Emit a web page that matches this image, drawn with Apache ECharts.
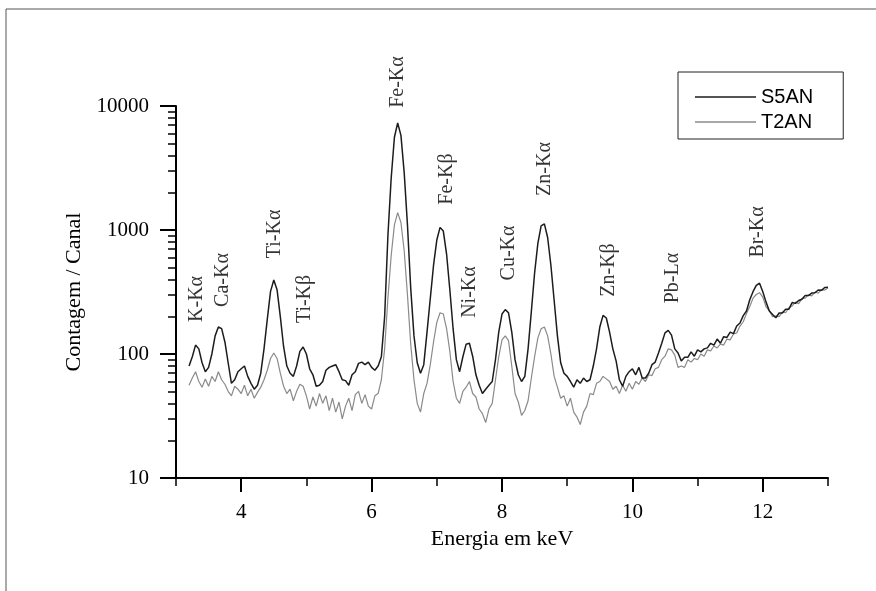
<!DOCTYPE html>
<html><head><meta charset="utf-8">
<script src="https://cdn.jsdelivr.net/npm/echarts@6/dist/echarts.min.js"></script>
<style>html,body{margin:0;padding:0;background:#fff}#c{width:876px;height:591px}</style>
</head><body><div id="c"></div>
<script>
// Energy channels (keV)
const energy = [3.20,3.25,3.30,3.35,3.40,3.45,3.50,3.55,3.60,3.65,3.70,3.75,3.80,3.85,3.90,3.95,
4.00,4.05,4.10,4.15,4.20,4.25,4.30,4.35,4.40,4.45,4.50,4.55,4.60,4.65,4.70,4.75,4.80,4.85,4.90,4.95,
5.00,5.05,5.10,5.15,5.20,5.25,5.30,5.35,5.40,5.45,5.50,5.55,5.60,5.65,5.70,5.75,5.80,5.85,5.90,5.95,
6.00,6.05,6.10,6.15,6.20,6.25,6.30,6.35,6.40,6.45,6.50,6.55,6.60,6.65,6.70,6.75,6.80,6.85,6.90,6.95,
7.00,7.05,7.10,7.15,7.20,7.25,7.30,7.35,7.40,7.45,7.50,7.55,7.60,7.65,7.70,7.75,7.80,7.85,7.90,7.95,
8.00,8.05,8.10,8.15,8.20,8.25,8.30,8.35,8.40,8.45,8.50,8.55,8.60,8.65,8.70,8.75,8.80,8.85,8.90,8.95,
9.00,9.05,9.10,9.15,9.20,9.25,9.30,9.35,9.40,9.45,9.50,9.55,9.60,9.65,9.70,9.75,9.80,9.85,9.90,9.95,
10.00,10.05,10.10,10.15,10.20,10.25,10.30,10.35,10.40,10.45,10.50,10.55,10.60,10.65,10.70,10.75,10.80,10.85,10.90,10.95,
11.00,11.05,11.10,11.15,11.20,11.25,11.30,11.35,11.40,11.45,11.50,11.55,11.60,11.65,11.70,11.75,11.80,11.85,11.90,11.95,
12.00,12.05,12.10,12.15,12.20,12.25,12.30,12.35,12.40,12.45,12.50,12.55,12.60,12.65,12.70,12.75,12.80,12.85,12.90,12.95,
13.00];

// Counts per channel, sample S5AN
const s5an = [80,95,118,110,85,72,78,100,140,165,160,125,85,58,62,72,
76,80,66,58,52,56,70,110,190,320,395,330,200,115,80,70,66,80,105,114,
100,76,68,55,56,60,74,78,80,82,72,62,61,56,68,72,84,86,82,86,
78,74,80,95,200,900,2600,5600,7300,5800,2900,1100,340,140,85,70,82,150,280,520,
830,1050,980,640,330,160,90,72,95,120,122,96,68,56,48,52,56,60,90,150,
210,228,215,150,90,68,60,66,110,220,450,780,1080,1120,870,520,270,140,85,70,
66,60,54,62,58,64,60,62,80,110,165,205,195,150,110,88,62,55,66,72,
76,68,78,64,64,70,82,86,102,122,148,155,142,110,102,88,94,94,104,96,
108,104,110,112,122,118,132,122,138,136,150,146,168,178,204,222,274,318,358,372,
318,262,222,208,196,214,214,230,230,260,256,270,276,296,296,310,312,328,326,344,
345];

// Counts per channel, sample T2AN
const t2an = [56,64,72,60,54,63,55,66,60,72,62,57,50,46,55,52,
48,56,46,52,44,49,54,62,74,92,102,92,70,55,48,52,42,50,57,55,
46,36,45,38,48,40,46,35,44,34,41,30,38,44,35,47,50,40,47,38,
36,46,48,62,110,280,620,1100,1380,1150,680,300,120,62,40,34,48,58,82,125,
180,215,210,160,105,60,44,40,50,54,60,48,45,36,33,28,36,40,62,95,
130,140,128,80,48,41,32,35,42,64,95,135,160,165,140,100,66,54,44,46,
38,44,34,31,27,34,38,48,47,58,60,66,63,60,52,55,48,56,50,58,
52,60,57,64,60,68,67,76,78,90,96,110,108,98,78,80,78,90,86,92,
90,100,96,108,106,116,112,120,118,132,130,145,148,168,182,212,242,282,302,312,
288,240,224,200,202,200,218,215,236,244,262,255,280,282,300,294,316,310,330,328,
340];

// Axis ticks
const xMajorTicks = [4,6,8,10,12];
const xMinorTicks = [3,5,7,9,11,13];
const yMinorTicks = [20,30,40,50,60,70,80,90,200,300,400,500,600,700,800,900,2000,3000,4000,5000,6000,7000,8000,9000];

// Peak annotations (energy, level of label centre)
const peakNames  = ['K-Kα','Ca-Kα','Ti-Kα','Ti-Kβ','Fe-Kα','Fe-Kβ','Ni-Kα','Cu-Kα','Zn-Kα','Zn-Kβ','Pb-Lα','Br-Kα'];
const peakEnergy = [3.32,3.72,4.52,4.98,6.40,7.16,7.51,8.11,8.66,9.63,10.62,11.93];
const peakLevel  = [278,395,929,278,15600,2578,316,653,3104,476,410,964];

const SERIF = '"Liberation Serif","Times New Roman",serif';
const SANS = '"Liberation Sans",Arial,sans-serif';

const chart = echarts.init(document.getElementById('c'), null, {renderer:'canvas'});
const option = {
  animation: false,
  backgroundColor: '#fff',
  graphic: [
    {type:'line', shape:{x1:6,y1:9,x2:876,y2:9}, style:{stroke:'#555',lineWidth:1}, silent:true},
    {type:'line', shape:{x1:6,y1:9,x2:6,y2:591}, style:{stroke:'#555',lineWidth:1}, silent:true}
  ],
  grid: {left:176, right:48, top:106, bottom:113, containLabel:false},
  legend: {
    left: 678, top: 72, orient: 'vertical',
    data: ['S5AN','T2AN'],
    icon: 'rect',
    itemWidth: 61, itemHeight: 1.5, itemGap: 5,
    padding: [15, 30, 7, 17],
    borderColor: '#222', borderWidth: 1,
    textStyle: {fontFamily: SANS, fontSize: 20, color: '#000', lineHeight: 20}
  },
  xAxis: [
    {
      type:'value', min:3, max:13, position:'bottom',
      axisLine:{onZero:false, lineStyle:{color:'#000', width:2}},
      axisTick:{customValues:xMajorTicks, length:14, lineStyle:{color:'#000', width:2}},
      axisLabel:{customValues:xMajorTicks, margin:24, fontFamily:SERIF, fontSize:21, color:'#000'},
      splitLine:{show:false},
      name:'Energia em keV', nameLocation:'middle', nameGap:47,
      nameTextStyle:{fontFamily:SERIF, fontSize:22, color:'#000'}
    },
    {
      type:'value', min:3, max:13, position:'bottom',
      axisLine:{show:false, onZero:false},
      axisTick:{customValues:xMinorTicks, length:8, lineStyle:{color:'#000', width:1.5}},
      axisLabel:{show:false}, splitLine:{show:false}
    }
  ],
  yAxis: [
    {
      type:'log', logBase:10, min:10, max:10000, position:'left',
      axisLine:{show:true, onZero:false, lineStyle:{color:'#000', width:2}},
      axisTick:{show:true, length:16, lineStyle:{color:'#000', width:2}},
      axisLabel:{formatter: v => String(Math.round(v)), margin:27, fontFamily:SERIF, fontSize:21, color:'#000'},
      splitLine:{show:false},
      name:'Contagem / Canal', nameLocation:'middle', nameGap:90,
      nameTextStyle:{fontFamily:SERIF, fontSize:22, color:'#000'}
    },
    {
      type:'value', min:1, max:4, position:'left',
      axisLine:{show:false, onZero:false},
      axisTick:{show:true, customValues: yMinorTicks.map(v => Math.log10(v)), length:8, lineStyle:{color:'#000', width:1.5}},
      axisLabel:{show:false}, splitLine:{show:false}
    }
  ],
  series: [
    {
      name:'T2AN', type:'line', symbol:'none', z:2,
      data: energy.map((e,i) => [e, t2an[i]]),
      lineStyle:{color:'#8a8a8a', width:1.2}, itemStyle:{color:'#8a8a8a'}
    },
    {
      name:'S5AN', type:'line', symbol:'none', z:3,
      data: energy.map((e,i) => [e, s5an[i]]),
      lineStyle:{color:'#1c1c1c', width:1.5}, itemStyle:{color:'#1c1c1c'}
    },
    {
      name:'peaks', type:'scatter', symbolSize:1, z:5, clip:false, silent:true,
      itemStyle:{color:'rgba(0,0,0,0)'},
      data: peakEnergy.map((e,i) => ({name: peakNames[i], value:[e, peakLevel[i]]})),
      label:{show:true, position:'inside', rotate:90, formatter:'{b}', fontFamily:SERIF, fontSize:20, color:'#000'}
    }
  ]
};
chart.setOption(option);
</script>
</body></html>
